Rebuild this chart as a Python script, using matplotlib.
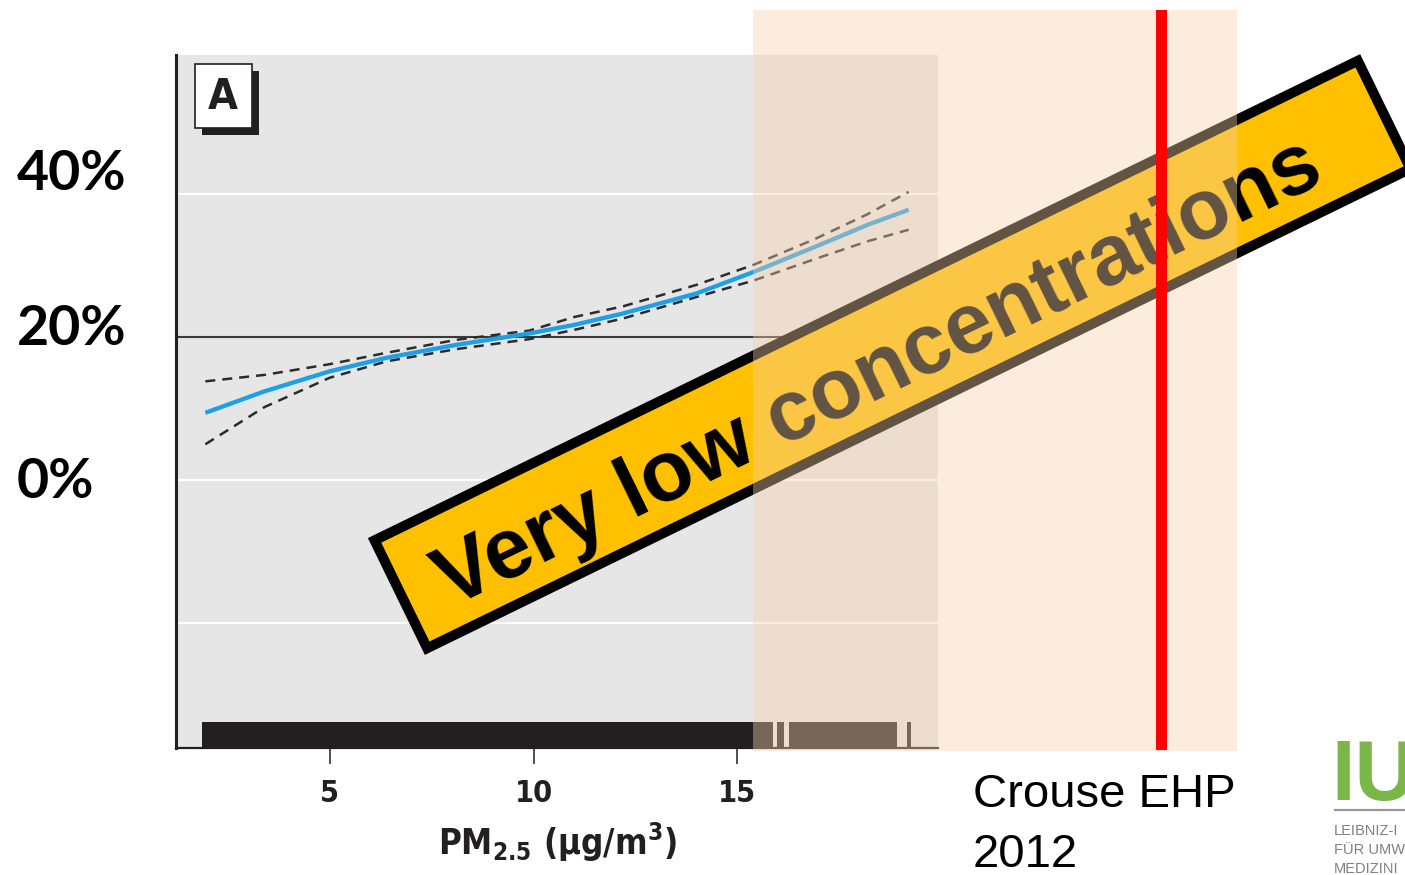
import numpy as np
import matplotlib
matplotlib.use("Agg")
import matplotlib.pyplot as plt
from matplotlib.patches import Rectangle, Polygon
from matplotlib.font_manager import FontProperties

# ---- data: spline estimate with 95% band vs PM2.5 ----
pm25 = [1.95, 3.4, 5.0, 6.4, 8.1, 9.9, 11.0, 12.2, 14.0, 15.4, 16.9, 18.2, 19.2]
estimate = [9.4, 12.4, 15.2, 17.1, 18.9, 20.5, 21.7, 23.3, 26.1, 29.1, 32.6, 35.7, 37.8]
upper = [13.8, 14.7, 16.2, 17.8, 19.6, 20.9, 22.8, 24.3, 27.3, 30.1, 33.7, 37.2, 40.3]
lower = [5.0, 10.2, 14.3, 16.6, 18.3, 19.7, 21.0, 22.6, 25.6, 27.9, 30.9, 33.4, 35.0]

# rug of observed exposures (covered intervals)
rug_start = [1.87, 15.97, 16.27, 19.16]
rug_end = [15.88, 16.15, 18.92, 19.26]

x_ticks = [5, 10, 15]
x_tick_labels = ["5", "10", "15"]
grid_levels = [40, 0, -20]
ref_level = 20
slide_labels = ["40%", "20%", "0%"]
panel_letter = "A"
banner_text = "Very low concentrations"
source_lines = ["Crouse EHP", "2012"]
logo_mark = "IU"
logo_lines = ["LEIBNIZ-I", "FÜR UMW", "MEDIZINI"]

W, H = 1405, 875
plt.rcParams["mathtext.default"] = "regular"
INK = "#231f20"

fig = plt.figure(figsize=(W / 100, H / 100), dpi=100)
fig.patch.set_facecolor("white")

# ---- main panel ----
ax = fig.add_axes([176 / W, 1 - 748 / H, (938 - 176) / W, (748 - 55) / H])
ax.set_facecolor("#e6e6e6")
ax.set_xlim(1.23, 19.92)
ax.set_ylim(-37.48, 59.44)

for g in grid_levels:
    ax.axhline(g, color="white", lw=1.6, zorder=1)
ax.axhline(ref_level, color="#3a3a3a", lw=1.5, zorder=1)

for a, b in zip(rug_start, rug_end):
    ax.axvspan(a, b, ymin=0, ymax=0.0375, color=INK, lw=0, zorder=2)

ax.plot(pm25, upper, color="#2b2b2b", lw=1.8, dashes=(4.0, 2.8), zorder=3)
ax.plot(pm25, lower, color="#2b2b2b", lw=1.8, dashes=(4.0, 2.8), zorder=3)
ax.plot(pm25, estimate, color="#1e9fe6", lw=3.1, solid_capstyle="butt", zorder=4)

for side in ("top", "right"):
    ax.spines[side].set_visible(False)
ax.spines["left"].set_linewidth(2.2)
ax.spines["left"].set_color(INK)
ax.spines["bottom"].set_linewidth(1.6)
ax.spines["bottom"].set_color(INK)

ax.set_yticks([])
ax.set_xticks(x_ticks)
ax.set_xticklabels(x_tick_labels)
ax.tick_params(axis="x", direction="out", length=11.5, width=1.1,
               color=INK, pad=11)
tick_fp = FontProperties(family="DejaVu Sans", stretch="condensed",
                         weight="bold", size=22)
for lab in ax.get_xticklabels():
    lab.set_fontproperties(tick_fp)
    lab.set_color(INK)
ax.set_xlabel("PM$_{2.5}$ (µg/m$^3$)", fontsize=25, fontweight="bold",
              fontstretch="condensed", family="DejaVu Sans",
              color=INK, labelpad=9)

# ---- slide layer in pixel coordinates ----
slide = fig.add_axes([0, 0, 1, 1], zorder=5)
slide.set_xlim(0, W)
slide.set_ylim(H, 0)
slide.axis("off")

# panel letter box with drop shadow
slide.add_patch(Rectangle((202, 71), 57, 64, facecolor=INK, lw=0, zorder=1))
slide.add_patch(Rectangle((195, 64), 57, 64, facecolor="white",
                          edgecolor=INK, lw=1.2, zorder=2))
slide.text(223, 97, panel_letter, ha="center", va="center", fontsize=31,
           fontweight="bold", fontstretch="condensed", family="DejaVu Sans",
           color=INK, zorder=3)

# percentage labels
for lab, base in zip(slide_labels, [190, 345, 498]):
    slide.text(17, base, lab, ha="left", va="baseline", fontsize=40,
               fontweight="bold", family="Lato", color="black", zorder=3)

# rotated banner
cx, cy, blen, bhgt, bw = 892.5, 354.5, 1104, 130, 10
ang = np.deg2rad(26.0)
u = np.array([np.cos(ang), -np.sin(ang)])
v = np.array([np.sin(ang), np.cos(ang)])
hl, hh = blen / 2 - bw / 2, bhgt / 2 - bw / 2
c = np.array([cx, cy])
corners = [c - hl * u - hh * v, c + hl * u - hh * v,
           c + hl * u + hh * v, c - hl * u + hh * v]
slide.add_patch(Polygon(corners, closed=True, facecolor="#ffc000",
                        edgecolor="black", lw=bw * 0.72, joinstyle="miter",
                        zorder=4))
slide.text(889, 394, banner_text, rotation=26.0, rotation_mode="anchor",
           ha="center", va="baseline", fontsize=61, fontweight="bold",
           family="Liberation Sans", color="black", zorder=5)

# highlighted range and limit marker
slide.add_patch(Rectangle((753, 10), 1237 - 753, 741, facecolor="#f6d1aa",
                          alpha=0.40, lw=0, zorder=6))
slide.add_patch(Rectangle((1156, 10), 11, 740, facecolor="#ff0000",
                          lw=0, zorder=7))

# source
slide.text(973, 807, source_lines[0], ha="left", va="baseline", fontsize=34,
           family="Liberation Sans", color="black", zorder=8)
slide.text(973, 867, source_lines[1], ha="left", va="baseline", fontsize=34,
           family="Liberation Sans", color="black", zorder=8)

# institute logo
slide.text(1331, 800, logo_mark, ha="left", va="baseline", fontsize=61,
           fontweight="bold", family="Liberation Sans", color="#7ab648",
           zorder=8)
slide.plot([1335, W], [810, 810], color="#9a9a9a", lw=1.6, zorder=8)
for line, base in zip(logo_lines, [835, 854, 873]):
    slide.text(1334, base, line, ha="left", va="baseline", fontsize=10.5,
               family="Liberation Sans", color="#808080", zorder=8)

fig.savefig("out.png", dpi=100, facecolor="white")
